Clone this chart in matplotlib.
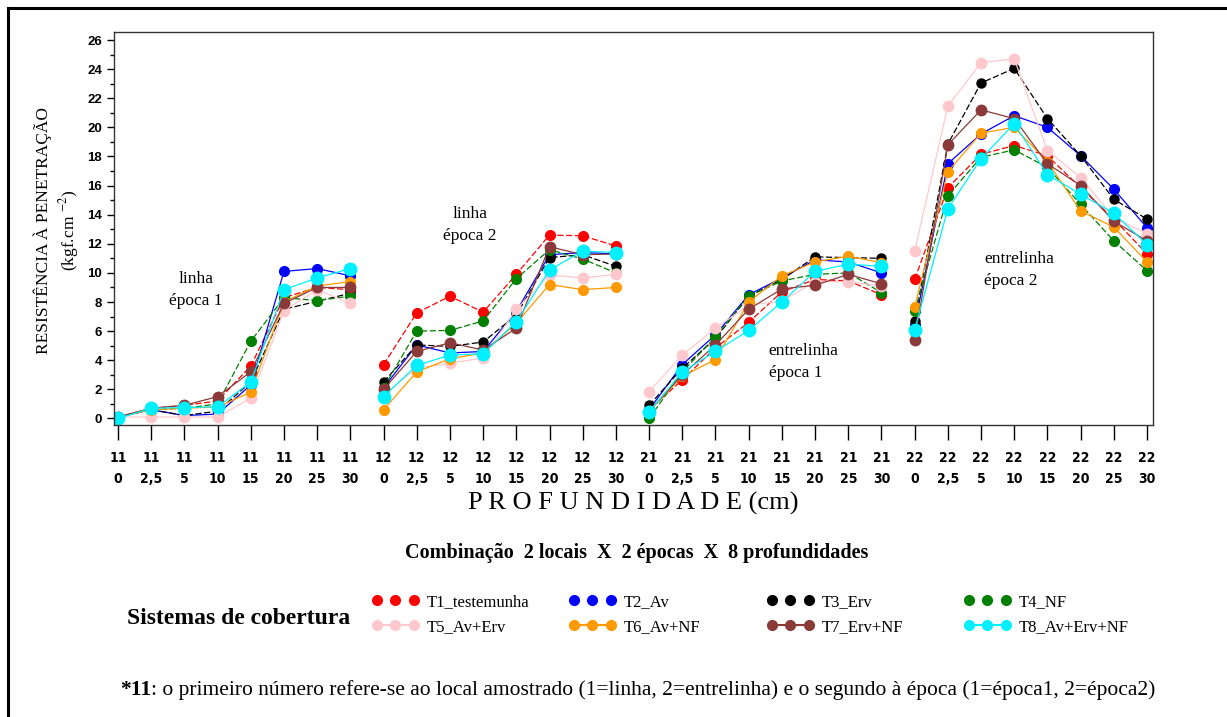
import matplotlib
matplotlib.use("Agg")
import numpy as np
import matplotlib.pyplot as plt
from matplotlib.lines import Line2D

plt.rcParams['font.family'] = ['Liberation Serif', 'DejaVu Serif']
plt.rcParams['mathtext.fontset'] = 'stix'

# categorias: local+época / profundidade
grupos = ['11', '12', '21', '22']
profundidades = ['0', '2,5', '5', '10', '15', '20', '25', '30']
rotulos_x = [g + '\n' + p for g in grupos for p in profundidades]

t1 = [0.1, 0.7, 0.9, 1.2, 3.6, 8.3, 9.0, 8.85,
      3.7, 7.25, 8.4, 7.3, 9.9, 12.6, 12.55, 11.85,
      0.6, 2.65, 4.85, 6.6, 8.7, 9.55, 9.45, 8.5,
      9.55, 15.85, 18.15, 18.75, 18.05, 15.85, 13.7, 11.3]
t2 = [0.1, 0.6, 0.2, 0.3, 2.3, 10.1, 10.3, 9.8,
      2.1, 5.05, 4.5, 4.6, 7.35, 11.25, 11.4, 11.3,
      0.6, 3.7, 5.75, 8.5, 9.65, 10.9, 10.75, 10.0,
      6.45, 17.5, 19.55, 20.8, 20.0, 18.05, 15.75, 13.1]
t3 = [0.1, 0.6, 0.2, 0.5, 2.5, 7.5, 8.05, 8.6,
      2.5, 5.05, 4.95, 5.25, 7.1, 11.05, 11.25, 10.45,
      0.9, 3.45, 5.5, 8.4, 9.55, 11.1, 11.05, 11.0,
      6.7, 18.85, 23.05, 24.05, 20.6, 18.05, 15.05, 13.7]
t4 = [0.1, 0.6, 0.7, 1.0, 5.3, 8.3, 8.1, 8.4,
      2.1, 6.0, 6.05, 6.7, 9.6, 11.6, 10.95, 10.0,
      0.0, 3.2, 5.6, 8.4, 9.45, 9.9, 10.0, 8.65,
      7.35, 15.3, 17.95, 18.45, 17.25, 14.7, 12.2, 10.15]
t5 = [0.1, 0.1, 0.1, 0.1, 1.4, 7.4, 8.85, 7.9,
      1.6, 3.45, 3.8, 4.15, 7.5, 9.85, 9.65, 9.9,
      1.85, 4.35, 6.2, 7.8, 8.05, 9.4, 9.4, 9.1,
      11.5, 21.45, 24.45, 24.7, 18.4, 16.55, 13.8, 12.7]
t6 = [0.1, 0.6, 0.7, 0.8, 1.8, 8.0, 9.1, 9.4,
      0.6, 3.2, 4.1, 4.5, 6.55, 9.2, 8.85, 9.0,
      0.5, 2.9, 4.05, 8.0, 9.8, 10.75, 11.15, 10.7,
      7.65, 16.95, 19.6, 20.0, 17.65, 14.25, 13.15, 10.75]
t7 = [0.1, 0.7, 0.9, 1.5, 3.2, 7.9, 9.0, 9.0,
      2.0, 4.6, 5.2, 4.7, 6.2, 11.8, 11.25, 11.3,
      0.5, 3.0, 5.05, 7.5, 8.9, 9.15, 9.9, 9.25,
      5.4, 18.8, 21.2, 20.6, 17.5, 16.0, 13.55, 12.2]
t8 = [0.0, 0.7, 0.75, 0.8, 2.5, 8.85, 9.65, 10.3,
      1.5, 3.65, 4.35, 4.45, 6.65, 10.2, 11.5, 11.4,
      0.45, 3.2, 4.6, 6.05, 8.0, 10.1, 10.6, 10.45,
      6.1, 14.4, 17.85, 20.25, 16.75, 15.4, 14.1, 11.95]

series = [
    ('T1_testemunha', t1, '#FF0000', (0, (5, 2)), 7),
    ('T2_Av', t2, '#0000FF', '-', 7),
    ('T3_Erv', t3, '#000000', (0, (5, 2)), 6.5),
    ('T4_NF', t4, '#008000', (0, (5, 2)), 7),
    ('T5_Av+Erv', t5, '#FFC8CC', '-', 7.5),
    ('T6_Av+NF', t6, '#FF9900', '-', 7),
    ('T7_Erv+NF', t7, '#8B3A3A', '-', 7.5),
    ('T8_Av+Erv+NF', t8, '#00F0FF', '-', 9),
]

fig = plt.figure(figsize=(12.27, 7.17), dpi=100)
ax = fig.add_axes([114/1227, 1-425/717, (1153-114)/1227, (425-32)/717])

x = np.arange(len(rotulos_x))
for nome, vals, cor, ls, ms in series:
    v = np.array(vals)
    for g in range(4):
        s = slice(g*8, g*8+8)
        ax.plot(x[s], v[s], color=cor, ls=ls, lw=0.9, marker='o', ms=ms,
                mec=cor, mfc=cor)

ax.set_xlim(-0.12, 31.18)
ax.set_ylim(-0.45, 26.55)
ax.set_xticks(x)
ax.set_xticklabels(rotulos_x, family='DejaVu Sans', fontstretch='condensed',
                   fontweight='bold', fontsize=10, linespacing=1.6)
ax.set_yticks(np.arange(0, 27, 2))
ax.set_yticks(np.arange(1, 27, 2), minor=True)
ax.set_yticklabels([str(v) for v in range(0, 27, 2)], family='Liberation Sans',
                   fontweight='bold', fontsize=9.5)
ax.tick_params(axis='x', direction='out', length=11, width=1, pad=8)
ax.tick_params(axis='y', which='major', direction='out', length=5, width=1)
ax.tick_params(axis='y', which='minor', direction='out', length=3, width=1)
for sp in ax.spines.values():
    sp.set_color('#333333')
    sp.set_linewidth(1)

# textos dentro do gráfico
ax.text(2.35, 8.8, 'linha\népoca 1', fontsize=12.5, ha='center', va='center',
        multialignment='center', linespacing=1.5)
ax.text(10.6, 13.3, 'linha\népoca 2', fontsize=12.5, ha='center', va='center',
        multialignment='center', linespacing=1.5)
ax.text(19.6, 3.9, 'entrelinha\népoca 1', fontsize=12.5, ha='left', va='center',
        linespacing=1.5)
ax.text(26.1, 10.2, 'entrelinha\népoca 2', fontsize=12.5, ha='left', va='center',
        linespacing=1.5)

fig.text(57/1227, 1-230/717, 'RESISTÊNCIA À PENETRAÇÃO\n(kgf.cm $^{-2}$)',
         rotation=90, ha='center', va='center', fontsize=12.5,
         multialignment='center', linespacing=1.3)
fig.text(633/1227, 1-503/717, 'P R O F U N D I D A D E (cm)', ha='center',
         va='center', fontsize=19)
fig.text(637/1227, 1-553/717,
         'Combinação  2 locais  X  2 épocas  X  8 profundidades', ha='center',
         va='center', fontsize=14.5, fontweight='bold')

# legenda
fig.text(127/1227, 1-618/717, 'Sistemas de cobertura', ha='left', va='center',
         fontsize=17, fontweight='bold')
col_x = [372, 569, 767, 964]
for c in range(4):
    h = []
    for r in range(2):
        nome, vals, cor, ls, ms = series[c + 4*r]
        h.append(Line2D([], [], color=cor, ls='none' if r == 0 else '-', lw=1.5,
                        marker='o', ms=7, mec=cor, mfc=cor, label=nome))
    fig.legend(handles=h, loc='upper left', bbox_to_anchor=(col_x[c]/1227, 1-594/717),
               frameon=False, numpoints=3, handlelength=2.8, handletextpad=0.5,
               fontsize=12, labelspacing=0.55, borderpad=0, borderaxespad=0)

fig.text(120/1227, 1-690/717, '*11', ha='left', va='center', fontsize=15.5,
         fontweight='bold')
fig.text(151/1227, 1-690/717,
         ': o primeiro número refere-se ao local amostrado (1=linha, 2=entrelinha) '
         'e o segundo à época (1=época1, 2=época2)',
         ha='left', va='center', fontsize=15.5)

# moldura externa (topo e esquerda)
fig.add_artist(Line2D([8/1227, 1], [1-8/717, 1-8/717], color='black', lw=2.2))
fig.add_artist(Line2D([8/1227, 8/1227], [0, 1-8/717], color='black', lw=2.2))

fig.savefig('out.png', dpi=100)
